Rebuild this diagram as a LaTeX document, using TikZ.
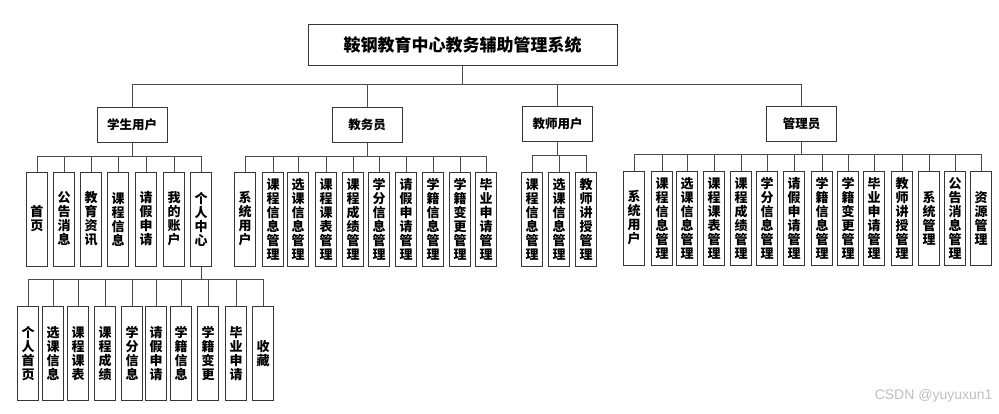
\documentclass[tikz,border=0pt]{standalone}
\usepackage{fontspec}
\setmainfont{Noto Sans CJK SC}
\newfontfamily\markfont{Liberation Sans}
\usepackage{tikz}
\definecolor{boxGray}{RGB}{55,55,55}
\definecolor{lineGray}{RGB}{75,75,75}

\begin{document}
\begin{tikzpicture}[
    x=1pt, y=-1pt,
    rootnode/.style={rectangle, draw=boxGray, line width=1pt, minimum width=309pt, minimum height=41pt, font=\fontsize{17}{20}\selectfont\bfseries},
    rolenode/.style={rectangle, draw=boxGray, line width=1pt, minimum width=70pt, minimum height=35pt, font=\fontsize{12.5}{15}\selectfont\bfseries},
    leafnode/.style={rectangle, draw=boxGray, line width=1pt, minimum width=21pt, minimum height=94pt, inner xsep=1pt, align=center, font=\fontsize{13}{14}\selectfont\bfseries},
    link/.style={draw=lineGray, line width=1pt}
  ]
    \useasboundingbox (0,0) rectangle (999,413);

    \node[rootnode] (root) at (462.5,44.5) {鞍钢教育中心教务辅助管理系统};

    \node[rolenode] (stu) at (132,125) {学生用户};
    \node[rolenode] (jwy) at (367,125) {教务员};
    \node[rolenode] (tea) at (557.5,124) {教师用户};
    \node[rolenode] (adm) at (801.5,124) {管理员};

    \foreach \r in {stu,jwy,tea,adm}
      \path[link] (root.south) -- ++(0,19) -| (\r.north);

    % student user
    \foreach \x/\t [count=\i] in {37/{首\\页}, 64/{公\\告\\消\\息}, 91/{教\\育\\资\\讯}, 118/{课\\程\\信\\息}, 146/{请\\假\\申\\请}, 174/{我\\的\\账\\户}, 201/{个\\人\\中\\心}} {
      \node[leafnode] (stu\i) at (\x,219) {\t};
      \path[link] (stu.south) -- ++(0,13) -| (stu\i.north);
    }

    % personal center
    \foreach \x/\t [count=\i] in {28/{个\\人\\首\\页}, 53/{选\\课\\信\\息}, 78/{课\\程\\课\\表}, 105/{课\\程\\成\\绩}, 132/{学\\分\\信\\息}, 156/{请\\假\\申\\请}, 181/{学\\籍\\信\\息}, 208/{学\\籍\\变\\更}, 236/{毕\\业\\申\\请}, 263/{收\\藏}} {
      \node[leafnode] (me\i) at (\x,353.5) {\t};
      \path[link] (stu7.south) -- ++(0,13) -| (me\i.north);
    }

    % academic staff
    \foreach \x/\t [count=\i] in {245/{系\\统\\用\\户}, 273/{课\\程\\信\\息\\管\\理}, 298/{选\\课\\信\\息\\管\\理}, 326/{课\\程\\课\\表\\管\\理}, 353/{课\\程\\成\\绩\\管\\理}, 379/{学\\分\\信\\息\\管\\理}, 406/{请\\假\\申\\请\\管\\理}, 433/{学\\籍\\信\\息\\管\\理}, 460/{学\\籍\\变\\更\\管\\理}, 486/{毕\\业\\申\\请\\管\\理}} {
      \node[leafnode] (jw\i) at (\x,219) {\t};
      \path[link] (jwy.south) -- ++(0,13) -| (jw\i.north);
    }

    % teacher user
    \foreach \x/\t [count=\i] in {532/{课\\程\\信\\息\\管\\理}, 559/{选\\课\\信\\息\\管\\理}, 586/{教\\师\\讲\\授\\管\\理}} {
      \node[leafnode] (te\i) at (\x,219) {\t};
      \path[link] (tea.south) -- ++(0,13) -| (te\i.north);
    }

    % administrator
    \foreach \x/\t [count=\i] in {634/{系\\统\\用\\户}, 662/{课\\程\\信\\息\\管\\理}, 687/{选\\课\\信\\息\\管\\理}, 714/{课\\程\\课\\表\\管\\理}, 741/{课\\程\\成\\绩\\管\\理}, 767/{学\\分\\信\\息\\管\\理}, 794/{请\\假\\申\\请\\管\\理}, 822/{学\\籍\\信\\息\\管\\理}, 848/{学\\籍\\变\\更\\管\\理}, 874/{毕\\业\\申\\请\\管\\理}, 902/{教\\师\\讲\\授\\管\\理}, 929/{系\\统\\管\\理}, 955/{公\\告\\消\\息\\管\\理}, 981/{资\\源\\管\\理}} {
      \node[leafnode] (ad\i) at (\x,218) {\t};
      \path[link] (adm.south) -- ++(0,12) -| (ad\i.north);
    }

    \node[anchor=east, text=gray!50, font=\markfont\fontsize{14}{16}\selectfont] (mark) at (996,396) {CSDN @yuyuxun1};
\end{tikzpicture}
\end{document}
